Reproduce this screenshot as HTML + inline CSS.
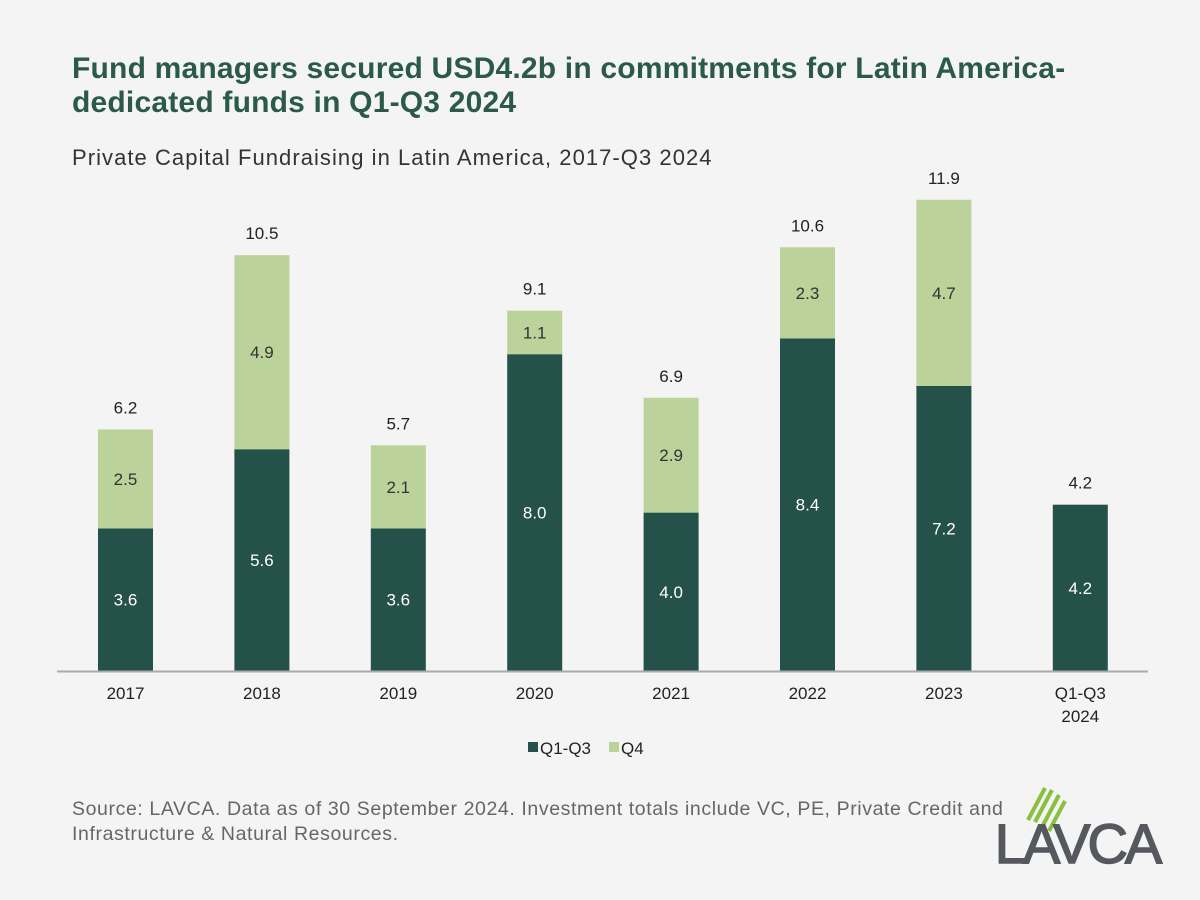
<!DOCTYPE html>
<html><head><meta charset="utf-8">
<style>
body{margin:0;background:#f4f4f4;font-family:"Liberation Sans",sans-serif;}
#wrap{position:relative;width:1200px;height:900px;overflow:hidden;background:#f4f4f4;}
#title{position:absolute;left:72px;top:52px;font-size:30px;font-weight:bold;color:#2b5a48;line-height:34px;letter-spacing:0.2px;}
#subtitle{position:absolute;left:72px;top:145px;font-size:22px;color:#333;letter-spacing:1.05px;}
#source{position:absolute;left:72px;top:797px;font-size:19.5px;color:#666;line-height:25px;letter-spacing:0.6px;}
</style></head><body>
<div id="wrap">
<div id="title">Fund managers secured USD4.2b in commitments for Latin America-<br>dedicated funds in Q1-Q3 2024</div>
<div id="subtitle">Private Capital Fundraising in Latin America, 2017-Q3 2024</div>
<svg id="chart" width="1200" height="900" style="position:absolute;left:0;top:0"></svg>
<div id="source">Source: LAVCA. Data as of 30 September 2024. Investment totals include VC, PE, Private Credit and<br>Infrastructure &amp; Natural Resources.</div>
<svg width="170" height="90" style="position:absolute;left:995px;top:780px">
<g stroke="#8bbf3f" stroke-width="4">
<line x1="33" y1="40" x2="50" y2="8"/><line x1="40" y1="42" x2="57" y2="10"/><line x1="47" y1="47" x2="64" y2="15"/><line x1="54" y1="51" x2="70" y2="21"/>
</g>
<text x="82" y="83" text-anchor="middle" font-family="Liberation Sans,sans-serif" font-size="56" fill="#55585c" stroke="#55585c" stroke-width="1.5" letter-spacing="-3">LAVCA</text>
</svg>
</div>
<script>
const categories=["2017","2018","2019","2020","2021","2022","2023","Q1-Q3|2024"];
const q13=[3.6,5.6,3.6,8.0,4.0,8.4,7.2,4.2];
const q4=[2.5,4.9,2.1,1.1,2.9,2.3,4.7,0];
const totals=["6.2","10.5","5.7","9.1","6.9","10.6","11.9","4.2"];
const svg=document.getElementById('chart');
const NS="http://www.w3.org/2000/svg";
const base=671,ppu=39.6,x0=125.5,step=136.4,bw=55;
const y=v=>base-v*ppu;
const xc=i=>x0+i*step;
function mk(t,a){const e=document.createElementNS(NS,t);for(const k in a)e.setAttribute(k,a[k]);svg.appendChild(e);return e;}
function txt(x,yy,s,fill,size){const e=mk('text',{x:x,y:yy,'text-anchor':'middle','font-size':size||17,fill:fill,'font-family':'Liberation Sans,sans-serif'});e.textContent=s;return e;}
categories.forEach((c,i)=>{
 const d=mk('rect',{x:xc(i)-bw/2,y:y(q13[i]),width:bw,height:q13[i]*ppu,fill:'#24514a'});
 
 
 const l1=txt(xc(i),(y(q13[i])+base)/2+6,q13[i].toFixed(1),'#fff');
 
 
 if(q4[i]>0){
  const top=q13[i]+q4[i];
  const r=mk('rect',{x:xc(i)-bw/2,y:y(top),width:bw,height:q4[i]*ppu,fill:'#bbd29a'});
  
  
  const l2=txt(xc(i),(y(top)+y(q13[i]))/2+6,q4[i].toFixed(1),'#333');
  
  
 }
 const tt=txt(xc(i),y(q13[i]+q4[i])-16,totals[i],'#222');
 
 
 c.split('|').forEach((p,j)=>{const cl=txt(xc(i),699+j*23,p,'#222');
  
  });
});
const ax=mk('line',{x1:57,x2:1148,y1:base+0.5,y2:base+0.5,stroke:'#aaa','stroke-width':2});


const s1=mk('rect',{x:528,y:742,width:10,height:10,fill:'#24514a'});


const t1=mk('text',{x:540,y:754,'font-size':17,fill:'#222','font-family':'Liberation Sans,sans-serif'});t1.textContent='Q1-Q3';


const s2=mk('rect',{x:609,y:742,width:10,height:10,fill:'#bbd29a'});


const t2=mk('text',{x:621,y:754,'font-size':17,fill:'#222','font-family':'Liberation Sans,sans-serif'});t2.textContent='Q4';


</script>
</body></html>
